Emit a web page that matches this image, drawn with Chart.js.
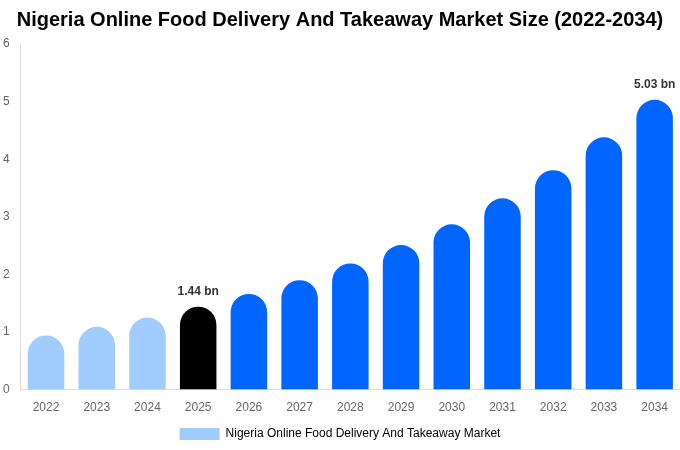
<!DOCTYPE html>
<html>
<head>
<meta charset="utf-8">
<script src="https://cdn.jsdelivr.net/npm/chart.js@4"></script>
<style>
  html, body { margin: 0; padding: 0; background: #fff; }
  #wrap { width: 680px; height: 450px; }
</style>
</head>
<body>
<div id="wrap"><canvas id="chart"></canvas></div>
<script>
const years = ["2022", "2023", "2024", "2025", "2026", "2027", "2028", "2029", "2030", "2031", "2032", "2033", "2034"];
const marketSize = [0.94, 1.09, 1.25, 1.44, 1.66, 1.90, 2.19, 2.51, 2.87, 3.32, 3.81, 4.38, 5.03];
const labelled = ["2025", "2034"];
const barColors = years.map(y => y < "2025" ? "#a0cdfd" : (y === "2025" ? "#000000" : "#0066ff"));

Chart.defaults.font.family = "'Liberation Sans', Arial, sans-serif";
Chart.defaults.color = "#666";

// draws "x.xx bn" over the picked bars
const valueLabels = {
  id: "valueLabels",
  afterDatasetsDraw(chart) {
    const ctx = chart.ctx;
    const meta = chart.getDatasetMeta(0);
    ctx.save();
    ctx.font = "bold 12px 'Liberation Sans', Arial, sans-serif";
    ctx.fillStyle = "#333";
    ctx.textAlign = "center";
    ctx.textBaseline = "bottom";
    meta.data.forEach((bar, i) => {
      if (!labelled.includes(years[i])) return;
      ctx.fillText(marketSize[i].toFixed(2) + " bn", bar.x, bar.y - 9);
    });
    ctx.restore();
  }
};

new Chart(document.getElementById("chart"), {
  type: "bar",
  data: {
    labels: years,
    datasets: [{
      label: "Nigeria Online Food Delivery And Takeaway Market",
      data: marketSize,
      backgroundColor: barColors,
      borderRadius: { topLeft: 20, topRight: 20 },
      borderSkipped: false,
    }],
  },
  options: {
    responsive: true,
    maintainAspectRatio: false,
    animation: false,
    layout: { padding: 0 },
    plugins: {
      title: {
        display: true,
        text: "Nigeria Online Food Delivery And Takeaway Market Size (2022-2034)",
        color: "#000",
        font: { size: 20, weight: "bold" },
        padding: { top: 8, bottom: 12 },
      },
      legend: {
        position: "bottom",
        labels: {
          boxWidth: 40,
          boxHeight: 12,
          color: "#666",
          font: { size: 12 },
          generateLabels() {
            return [{
              text: "Nigeria Online Food Delivery And Takeaway Market",
              fillStyle: "#a0cdfd",
              strokeStyle: "#a0cdfd",
              lineWidth: 0,
              datasetIndex: 0,
            }];
          },
        },
      },
      tooltip: { enabled: false },
    },
    scales: {
      x: {
        grid: { display: false },
        border: { color: "#ddd" },
        ticks: { color: "#666", font: { size: 12 } },
      },
      y: {
        min: 0,
        max: 6,
        grid: { display: false },
        border: { color: "#ddd" },
        ticks: { stepSize: 1, color: "#666", font: { size: 12 } },
      },
    },
  },
  plugins: [valueLabels],
});
</script>
</body>
</html>
